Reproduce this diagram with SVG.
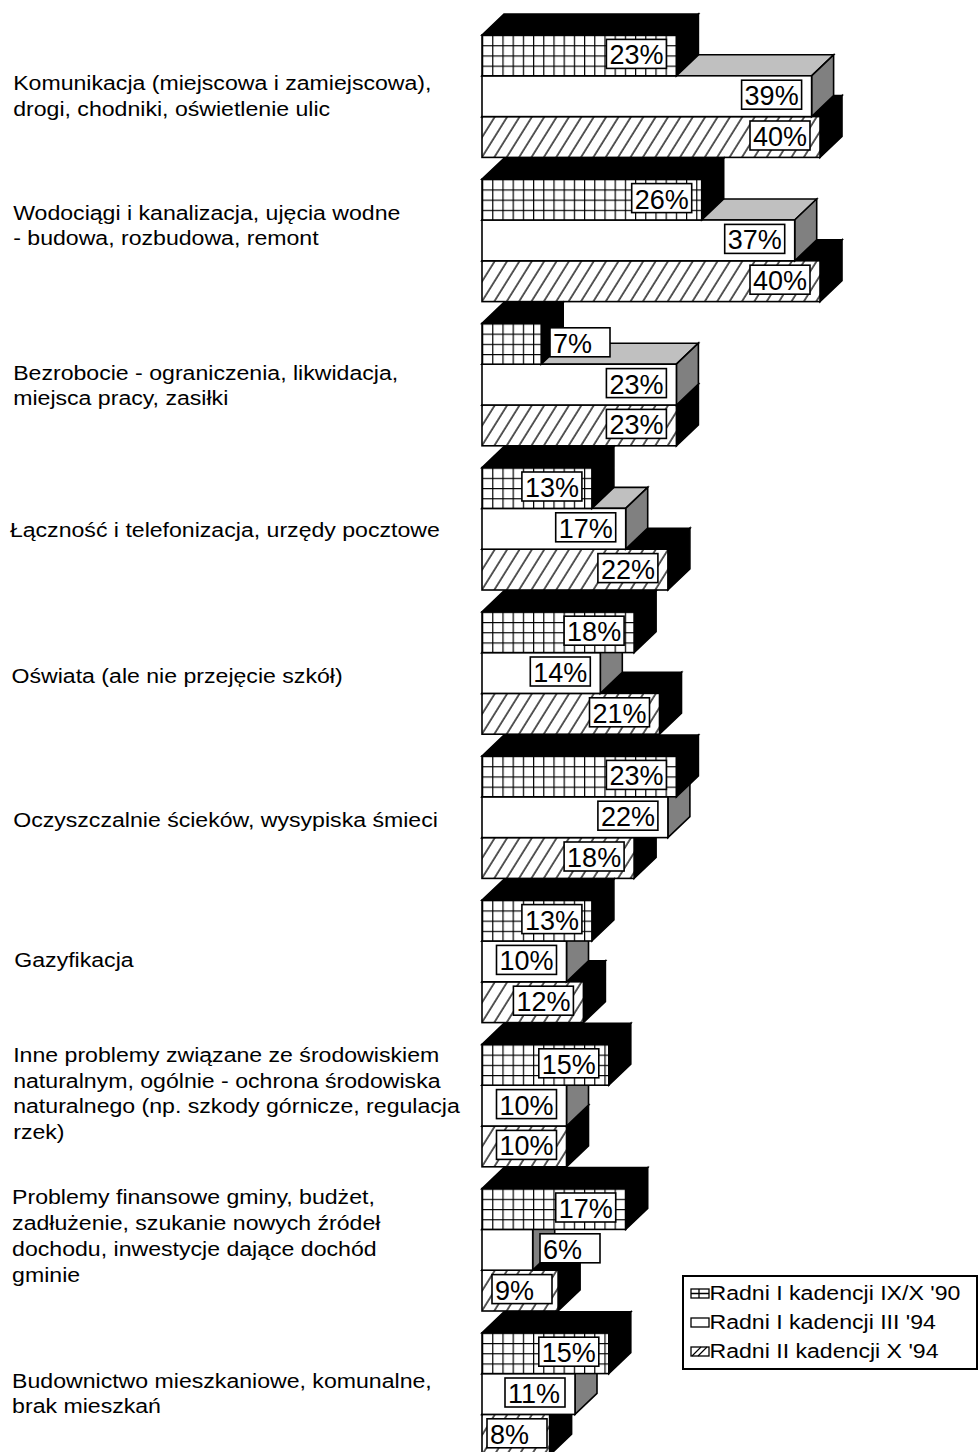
<svg xmlns="http://www.w3.org/2000/svg" width="978" height="1452" viewBox="0 0 978 1452">
<defs>
<pattern id="grid" patternUnits="userSpaceOnUse" x="482" y="0" width="10.2" height="10.2">
<rect width="10.2" height="10.2" style="fill:#fff;stroke:none"/>
<path d="M0,0.6 H10.2 M0.6,0 V10.2" stroke="#000" stroke-width="1.2" fill="none"/>
</pattern>
<pattern id="hatch" patternUnits="userSpaceOnUse" width="10.5" height="10.5" patternTransform="rotate(32)">
<rect width="10.5" height="10.5" style="fill:#fff;stroke:none"/>
<path d="M1,-1 V12" stroke="#000" stroke-width="1.3"/>
</pattern>
</defs>
<style>
.k, .lt, .dk, .fg, .fw, .fh, .lb { stroke:#000; stroke-width:1.6; }
.k { fill:#000; }
.lt { fill:#c0c0c0; }
.dk { fill:#808080; }
.fg { fill:url(#grid); }
.fw { fill:#fff; }
.fh { fill:url(#hatch); }
.lb { fill:#fff; }
.ic { fill:#fff; stroke:#000; stroke-width:1.3; }
.pt { font-family:"Liberation Sans", Arial, sans-serif; font-size:27px; fill:#000; }
.ct { font-family:"Liberation Sans", Arial, sans-serif; font-size:21px; fill:#000; }
</style>
<rect x="0" y="0" width="978" height="1452" style="fill:#fff;stroke:none"/>

<g id="cat1">
<g transform="translate(0,35)">
<polygon class="k" points="482,81.6 504,60.6 842,60.6 820,81.6"/>
<polygon class="k" points="820,81.6 842,60.6 842,101.4 820,122.4"/>
<rect class="fh" x="482" y="81.6" width="338" height="40.8"/>
<polygon class="lt" points="482,40.8 504,19.8 833.6,19.8 811.6,40.8"/>
<polygon class="dk" points="811.6,40.8 833.6,19.8 833.6,60.6 811.6,81.6"/>
<rect class="fw" x="482" y="40.8" width="329.6" height="40.8"/>
<polygon class="k" points="482,0 504,-21 698.4,-21 676.4,0"/>
<polygon class="k" points="676.4,0 698.4,-21 698.4,19.8 676.4,40.8"/>
<rect class="fg" x="482" y="0" width="194.4" height="40.8"/>
<rect class="lb" x="606.4" y="4.4" width="60" height="29"/><text class="pt" x="609.4" y="29.4">23%</text>
<rect class="lb" x="741.6" y="45.2" width="60" height="29"/><text class="pt" x="744.6" y="70.2">39%</text>
<rect class="lb" x="750" y="86" width="60" height="29"/><text class="pt" x="753" y="111">40%</text>
</g>
<g transform="scale(1.1 1)"><text class="ct" x="12" y="90">Komunikacja (miejscowa i zamiejscowa),</text><text class="ct" x="12" y="116">drogi, chodniki, oświetlenie ulic</text></g>
</g>

<g id="cat2">
<g transform="translate(0,179.2)">
<polygon class="k" points="482,81.6 504,60.6 842,60.6 820,81.6"/>
<polygon class="k" points="820,81.6 842,60.6 842,101.4 820,122.4"/>
<rect class="fh" x="482" y="81.6" width="338" height="40.8"/>
<polygon class="lt" points="482,40.8 504,19.8 816.7,19.8 794.7,40.8"/>
<polygon class="dk" points="794.7,40.8 816.7,19.8 816.7,60.6 794.7,81.6"/>
<rect class="fw" x="482" y="40.8" width="312.7" height="40.8"/>
<polygon class="k" points="482,0 504,-21 723.7,-21 701.7,0"/>
<polygon class="k" points="701.7,0 723.7,-21 723.7,19.8 701.7,40.8"/>
<rect class="fg" x="482" y="0" width="219.7" height="40.8"/>
<rect class="lb" x="631.7" y="4.4" width="60" height="29"/><text class="pt" x="634.7" y="29.4">26%</text>
<rect class="lb" x="724.7" y="45.2" width="60" height="29"/><text class="pt" x="727.7" y="70.2">37%</text>
<rect class="lb" x="750" y="86" width="60" height="29"/><text class="pt" x="753" y="111">40%</text>
</g>
<g transform="scale(1.1 1)"><text class="ct" x="12" y="220">Wodociągi i kanalizacja, ujęcia wodne</text><text class="ct" x="12" y="245">- budowa, rozbudowa, remont</text></g>
</g>

<g id="cat3">
<g transform="translate(0,323.4)">
<polygon class="k" points="482,81.6 504,60.6 698.4,60.6 676.4,81.6"/>
<polygon class="k" points="676.4,81.6 698.4,60.6 698.4,101.4 676.4,122.4"/>
<rect class="fh" x="482" y="81.6" width="194.4" height="40.8"/>
<polygon class="lt" points="482,40.8 504,19.8 698.4,19.8 676.4,40.8"/>
<polygon class="dk" points="676.4,40.8 698.4,19.8 698.4,60.6 676.4,81.6"/>
<rect class="fw" x="482" y="40.8" width="194.4" height="40.8"/>
<polygon class="k" points="482,0 504,-21 563.2,-21 541.2,0"/>
<polygon class="k" points="541.2,0 563.2,-21 563.2,19.8 541.2,40.8"/>
<rect class="fg" x="482" y="0" width="59.2" height="40.8"/>
<rect class="lb" x="550" y="4.4" width="60" height="29"/><text class="pt" x="553" y="29.4">7%</text>
<rect class="lb" x="606.4" y="45.2" width="60" height="29"/><text class="pt" x="609.4" y="70.2">23%</text>
<rect class="lb" x="606.4" y="86" width="60" height="29"/><text class="pt" x="609.4" y="111">23%</text>
</g>
<g transform="scale(1.1 1)"><text class="ct" x="12" y="380">Bezrobocie - ograniczenia, likwidacja,</text><text class="ct" x="12" y="405">miejsca pracy, zasiłki</text></g>
</g>

<g id="cat4">
<g transform="translate(0,467.6)">
<polygon class="k" points="482,81.6 504,60.6 689.9,60.6 667.9,81.6"/>
<polygon class="k" points="667.9,81.6 689.9,60.6 689.9,101.4 667.9,122.4"/>
<rect class="fh" x="482" y="81.6" width="185.9" height="40.8"/>
<polygon class="lt" points="482,40.8 504,19.8 647.7,19.8 625.7,40.8"/>
<polygon class="dk" points="625.7,40.8 647.7,19.8 647.7,60.6 625.7,81.6"/>
<rect class="fw" x="482" y="40.8" width="143.7" height="40.8"/>
<polygon class="k" points="482,0 504,-21 613.9,-21 591.9,0"/>
<polygon class="k" points="591.9,0 613.9,-21 613.9,19.8 591.9,40.8"/>
<rect class="fg" x="482" y="0" width="109.9" height="40.8"/>
<rect class="lb" x="521.9" y="4.4" width="60" height="29"/><text class="pt" x="524.9" y="29.4">13%</text>
<rect class="lb" x="555.7" y="45.2" width="60" height="29"/><text class="pt" x="558.7" y="70.2">17%</text>
<rect class="lb" x="597.9" y="86" width="60" height="29"/><text class="pt" x="600.9" y="111">22%</text>
</g>
<g transform="scale(1.1 1)"><text class="ct" x="9" y="537">Łączność i telefonizacja, urzędy pocztowe</text></g>
</g>

<g id="cat5">
<g transform="translate(0,611.8)">
<polygon class="k" points="482,81.6 504,60.6 681.5,60.6 659.5,81.6"/>
<polygon class="k" points="659.5,81.6 681.5,60.6 681.5,101.4 659.5,122.4"/>
<rect class="fh" x="482" y="81.6" width="177.5" height="40.8"/>
<polygon class="lt" points="482,40.8 504,19.8 622.3,19.8 600.3,40.8"/>
<polygon class="dk" points="600.3,40.8 622.3,19.8 622.3,60.6 600.3,81.6"/>
<rect class="fw" x="482" y="40.8" width="118.3" height="40.8"/>
<polygon class="k" points="482,0 504,-21 656.1,-21 634.1,0"/>
<polygon class="k" points="634.1,0 656.1,-21 656.1,19.8 634.1,40.8"/>
<rect class="fg" x="482" y="0" width="152.1" height="40.8"/>
<rect class="lb" x="564.1" y="4.4" width="60" height="29"/><text class="pt" x="567.1" y="29.4">18%</text>
<rect class="lb" x="530.3" y="45.2" width="60" height="29"/><text class="pt" x="533.3" y="70.2">14%</text>
<rect class="lb" x="589.5" y="86" width="60" height="29"/><text class="pt" x="592.5" y="111">21%</text>
</g>
<g transform="scale(1.1 1)"><text class="ct" x="10.5" y="683">Oświata (ale nie przejęcie szkół)</text></g>
</g>

<g id="cat6">
<g transform="translate(0,756)">
<polygon class="k" points="482,81.6 504,60.6 656.1,60.6 634.1,81.6"/>
<polygon class="k" points="634.1,81.6 656.1,60.6 656.1,101.4 634.1,122.4"/>
<rect class="fh" x="482" y="81.6" width="152.1" height="40.8"/>
<polygon class="lt" points="482,40.8 504,19.8 689.9,19.8 667.9,40.8"/>
<polygon class="dk" points="667.9,40.8 689.9,19.8 689.9,60.6 667.9,81.6"/>
<rect class="fw" x="482" y="40.8" width="185.9" height="40.8"/>
<polygon class="k" points="482,0 504,-21 698.4,-21 676.4,0"/>
<polygon class="k" points="676.4,0 698.4,-21 698.4,19.8 676.4,40.8"/>
<rect class="fg" x="482" y="0" width="194.4" height="40.8"/>
<rect class="lb" x="606.4" y="4.4" width="60" height="29"/><text class="pt" x="609.4" y="29.4">23%</text>
<rect class="lb" x="597.9" y="45.2" width="60" height="29"/><text class="pt" x="600.9" y="70.2">22%</text>
<rect class="lb" x="564.1" y="86" width="60" height="29"/><text class="pt" x="567.1" y="111">18%</text>
</g>
<g transform="scale(1.1 1)"><text class="ct" x="12" y="827">Oczyszczalnie ścieków, wysypiska śmieci</text></g>
</g>

<g id="cat7">
<g transform="translate(0,900.2)">
<polygon class="k" points="482,81.6 504,60.6 605.4,60.6 583.4,81.6"/>
<polygon class="k" points="583.4,81.6 605.4,60.6 605.4,101.4 583.4,122.4"/>
<rect class="fh" x="482" y="81.6" width="101.4" height="40.8"/>
<polygon class="lt" points="482,40.8 504,19.8 588.5,19.8 566.5,40.8"/>
<polygon class="dk" points="566.5,40.8 588.5,19.8 588.5,60.6 566.5,81.6"/>
<rect class="fw" x="482" y="40.8" width="84.5" height="40.8"/>
<polygon class="k" points="482,0 504,-21 613.9,-21 591.9,0"/>
<polygon class="k" points="591.9,0 613.9,-21 613.9,19.8 591.9,40.8"/>
<rect class="fg" x="482" y="0" width="109.9" height="40.8"/>
<rect class="lb" x="521.9" y="4.4" width="60" height="29"/><text class="pt" x="524.9" y="29.4">13%</text>
<rect class="lb" x="496.5" y="45.2" width="60" height="29"/><text class="pt" x="499.5" y="70.2">10%</text>
<rect class="lb" x="513.4" y="86" width="60" height="29"/><text class="pt" x="516.4" y="111">12%</text>
</g>
<g transform="scale(1.1 1)"><text class="ct" x="13" y="967">Gazyfikacja</text></g>
</g>

<g id="cat8">
<g transform="translate(0,1044.4)">
<polygon class="k" points="482,81.6 504,60.6 588.5,60.6 566.5,81.6"/>
<polygon class="k" points="566.5,81.6 588.5,60.6 588.5,101.4 566.5,122.4"/>
<rect class="fh" x="482" y="81.6" width="84.5" height="40.8"/>
<polygon class="lt" points="482,40.8 504,19.8 588.5,19.8 566.5,40.8"/>
<polygon class="dk" points="566.5,40.8 588.5,19.8 588.5,60.6 566.5,81.6"/>
<rect class="fw" x="482" y="40.8" width="84.5" height="40.8"/>
<polygon class="k" points="482,0 504,-21 630.8,-21 608.8,0"/>
<polygon class="k" points="608.8,0 630.8,-21 630.8,19.8 608.8,40.8"/>
<rect class="fg" x="482" y="0" width="126.8" height="40.8"/>
<rect class="lb" x="538.8" y="4.4" width="60" height="29"/><text class="pt" x="541.8" y="29.4">15%</text>
<rect class="lb" x="496.5" y="45.2" width="60" height="29"/><text class="pt" x="499.5" y="70.2">10%</text>
<rect class="lb" x="496.5" y="86" width="60" height="29"/><text class="pt" x="499.5" y="111">10%</text>
</g>
<g transform="scale(1.1 1)"><text class="ct" x="12" y="1062">Inne problemy związane ze środowiskiem</text><text class="ct" x="12" y="1088">naturalnym, ogólnie - ochrona środowiska</text><text class="ct" x="12" y="1113">naturalnego (np. szkody górnicze, regulacja</text><text class="ct" x="12" y="1139">rzek)</text></g>
</g>

<g id="cat9">
<g transform="translate(0,1188.6)">
<polygon class="k" points="482,81.6 504,60.6 580.1,60.6 558.1,81.6"/>
<polygon class="k" points="558.1,81.6 580.1,60.6 580.1,101.4 558.1,122.4"/>
<rect class="fh" x="482" y="81.6" width="76.1" height="40.8"/>
<polygon class="lt" points="482,40.8 504,19.8 554.7,19.8 532.7,40.8"/>
<polygon class="dk" points="532.7,40.8 554.7,19.8 554.7,60.6 532.7,81.6"/>
<rect class="fw" x="482" y="40.8" width="50.7" height="40.8"/>
<polygon class="k" points="482,0 504,-21 647.7,-21 625.7,0"/>
<polygon class="k" points="625.7,0 647.7,-21 647.7,19.8 625.7,40.8"/>
<rect class="fg" x="482" y="0" width="143.7" height="40.8"/>
<rect class="lb" x="555.7" y="4.4" width="60" height="29"/><text class="pt" x="558.7" y="29.4">17%</text>
<rect class="lb" x="540" y="45.2" width="60" height="29"/><text class="pt" x="543" y="70.2">6%</text>
<rect class="lb" x="492" y="86" width="60" height="29"/><text class="pt" x="495" y="111">9%</text>
</g>
<g transform="scale(1.1 1)"><text class="ct" x="11" y="1204">Problemy finansowe gminy, budżet,</text><text class="ct" x="11" y="1230">zadłużenie, szukanie nowych źródeł</text><text class="ct" x="11" y="1256">dochodu, inwestycje dające dochód</text><text class="ct" x="11" y="1282">gminie</text></g>
</g>

<g id="cat10">
<g transform="translate(0,1332.8)">
<polygon class="k" points="482,81.6 504,60.6 571.6,60.6 549.6,81.6"/>
<polygon class="k" points="549.6,81.6 571.6,60.6 571.6,101.4 549.6,122.4"/>
<rect class="fh" x="482" y="81.6" width="67.6" height="40.8"/>
<polygon class="lt" points="482,40.8 504,19.8 597,19.8 575,40.8"/>
<polygon class="dk" points="575,40.8 597,19.8 597,60.6 575,81.6"/>
<rect class="fw" x="482" y="40.8" width="93" height="40.8"/>
<polygon class="k" points="482,0 504,-21 630.8,-21 608.8,0"/>
<polygon class="k" points="608.8,0 630.8,-21 630.8,19.8 608.8,40.8"/>
<rect class="fg" x="482" y="0" width="126.8" height="40.8"/>
<rect class="lb" x="538.8" y="4.4" width="60" height="29"/><text class="pt" x="541.8" y="29.4">15%</text>
<rect class="lb" x="505" y="45.2" width="60" height="29"/><text class="pt" x="508" y="70.2">11%</text>
<rect class="lb" x="487" y="86" width="60" height="29"/><text class="pt" x="490" y="111">8%</text>
</g>
<g transform="scale(1.1 1)"><text class="ct" x="11" y="1388">Budownictwo mieszkaniowe, komunalne,</text><text class="ct" x="11" y="1413">brak mieszkań</text></g>
</g>

<g id="legend">
<rect x="683" y="1276" width="294" height="93" style="fill:#fff;stroke:#000;stroke-width:2"/>
<rect class="ic" x="691" y="1289" width="18" height="9"/>
<path d="M691,1293.5 H709 M699,1289 V1298" stroke="#000" stroke-width="1.3"/>
<rect class="ic" x="691" y="1318" width="18" height="9"/>
<rect class="ic" x="691" y="1347" width="18" height="9"/>
<path d="M692,1356 L701,1347 M698,1356 L707,1347" stroke="#000" stroke-width="1.2"/>
<g transform="scale(1.1 1)">
<text class="ct" x="645" y="1300">Radni I kadencji IX/X '90</text>
<text class="ct" x="645" y="1329">Radni I kadencji III '94</text>
<text class="ct" x="645" y="1358">Radni II kadencji X '94</text>
</g>
</g>
</svg>
